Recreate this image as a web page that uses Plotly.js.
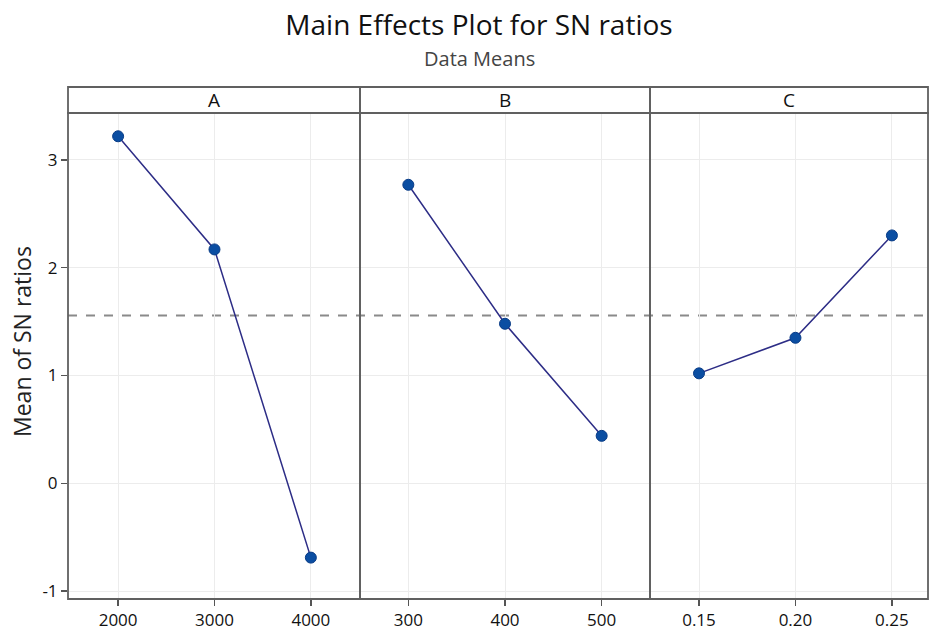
<!DOCTYPE html>
<html>
<head>
<meta charset="utf-8">
<script src="https://cdn.plot.ly/plotly-3.0.1.min.js"></script>
<style>html,body{margin:0;padding:0;background:#fff;}#chart{width:932px;height:630px;}</style>
</head>
<body>
<div id="chart"></div>
<script>
// ---- data ----
const factorNames = ["A", "B", "C"];
const levelsA = [2000, 3000, 4000];
const meansA  = [3.22, 2.17, -0.69];
const levelsB = [300, 400, 500];
const meansB  = [2.77, 1.48, 0.44];
const levelsC = [0.15, 0.20, 0.25];
const meansC  = [1.02, 1.35, 2.30];
const overallMean = 1.557;
const yTicks = [-1, 0, 1, 2, 3];

const FONT = "Open Sans, Noto Sans, sans-serif";
const lineColor = "#2d2d86";
const markerColor = "#0b4ea2";

function tr(x, y, xa) {
  return {
    x: x, y: y, xaxis: xa, yaxis: "y", type: "scatter", mode: "lines+markers",
    line: {color: lineColor, width: 1.5},
    marker: {color: markerColor, size: 11, line: {color: "#083b86", width: 1}},
    showlegend: false, hoverinfo: "x+y"
  };
}

const data = [tr(levelsA, meansA, "x"), tr(levelsB, meansB, "x2"), tr(levelsC, meansC, "x3")];

const W = 860, H = 486;
const dA = [0, 292 / W], dB = [292 / W, 582 / W], dC = [582 / W, 1];
const stripTop = 1 + 26 / H;

function xax(domain, range, tickvals, fmt) {
  return {
    domain: domain, range: range, anchor: "y",
    tickmode: "array", tickvals: tickvals, tickformat: fmt,
    showgrid: true, gridcolor: "#ececec", gridwidth: 1,
    zeroline: false, showline: false,
    ticks: "outside", ticklen: 6, tickcolor: "#555", tickwidth: 1.5,
    tickfont: {family: FONT, size: 17, color: "#111"}
  };
}

const borderColor = "#606060";
const shapes = [];
// strip and panel borders
[dA, dB, dC].forEach(d => {
  shapes.push({type: "rect", xref: "paper", yref: "paper", x0: d[0], x1: d[1], y0: 0, y1: 1,
    line: {color: borderColor, width: 1.8}, layer: "above"});
  shapes.push({type: "rect", xref: "paper", yref: "paper", x0: d[0], x1: d[1], y0: 1, y1: stripTop,
    line: {color: borderColor, width: 1.8}, fillcolor: "rgba(0,0,0,0)", layer: "above"});
});
// overall mean reference line
shapes.push({type: "line", xref: "paper", yref: "y", x0: 0, x1: 1, y0: overallMean, y1: overallMean,
  line: {color: "#8a8a8a", width: 1.8, dash: "dash"}, layer: "below"});

const annotations = [];
[dA, dB, dC].forEach((d, i) => {
  annotations.push({xref: "paper", yref: "paper", x: (d[0] + d[1]) / 2, y: (1 + stripTop) / 2,
    text: factorNames[i], showarrow: false, xanchor: "center", yanchor: "middle",
    font: {family: FONT, size: 19, color: "#111"}});
});
annotations.push({xref: "paper", yref: "paper", x: (479 - 68) / W, y: 1 + (113 - 58) / H, text: "Data Means",
  showarrow: false, xanchor: "center", yanchor: "middle",
  font: {family: FONT, size: 20, color: "#444"}});
annotations.push({xref: "paper", yref: "paper", x: -46 / W, y: 1 - (342 - 113) / H, text: "Mean of SN ratios",
  showarrow: false, textangle: -90, xanchor: "center", yanchor: "middle",
  font: {family: FONT, size: 23, color: "#222"}});

const layout = {
  width: 932, height: 630,
  margin: {l: 68, r: 4, t: 113, b: 31},
  paper_bgcolor: "#fff", plot_bgcolor: "#fff",
  title: {text: "Main Effects Plot for SN ratios", x: 479 / 932, xanchor: "center", y: 1 - 25 / 630, yanchor: "middle",
    xref: "container", yref: "container", font: {family: FONT, size: 28, color: "#111"}},
  xaxis: xax(dA, [1480, 4510], levelsA, "d"),
  xaxis2: xax(dB, [250, 550], levelsB, "d"),
  xaxis3: xax(dC, [0.1246, 0.2687], levelsC, ".2f"),
  yaxis: {
    range: [-1.074, 3.436], tickmode: "array", tickvals: yTicks, ticktext: yTicks.map(String),
    showgrid: true, gridcolor: "#ececec", zeroline: false, showline: false,
    ticks: "outside", ticklen: 6, tickcolor: "#555", tickwidth: 1.5,
    tickfont: {family: FONT, size: 17, color: "#111"}
  },
  shapes: shapes,
  annotations: annotations,
  showlegend: false
};

Plotly.newPlot("chart", data, layout, {displayModeBar: false, staticPlot: true});
</script>
</body>
</html>
